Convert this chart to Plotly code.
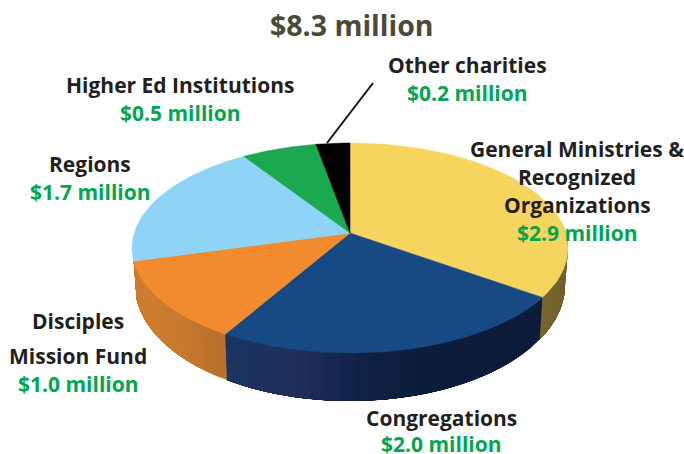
import numpy as np
import plotly.graph_objects as go

# ---- data ----
title = "$8.3 million"
categories = ["General Ministries & Recognized Organizations", "Congregations",
              "Disciples Mission Fund", "Regions", "Higher Ed Institutions", "Other charities"]
values_millions = [2.9, 2.0, 1.0, 1.7, 0.5, 0.2]
# the share of the circle each slice is actually drawn with (percent, not proportional to the dollars)
drawn_share = [32.8, 26.9, 13.3, 18.9, 5.6, 2.5]
top_colors = ["#f6d55f", "#174a84", "#f28a2e", "#8dd4f6", "#1aa850", "#000000"]
side_stops = [[(107, 90, 42), (120, 102, 48)],
              [(12, 28, 58), (12, 28, 58), (12, 28, 58), (16, 34, 70), (33, 46, 90), (27, 52, 98)],
              [(184, 112, 44), (200, 122, 46), (208, 126, 46), (204, 124, 46)],
              None, None, None]

# ---- pie geometry (pixel-like canvas) ----
W, H = 684, 454
CX = 350
TOP = dict(cy=248, rx=218, ry=105)
BOT = dict(cy=285, rx=215, ry=116)
APEX = (350, 233)
INK, GREEN = "#231f20", "#00a651"
TITLE_INK = "#4a4a3a"
FONT = "Open Sans"


def edge(t, e):
    return CX + e["rx"] * np.sin(t), e["cy"] - e["ry"] * np.cos(t)


def interp(stops, f):
    p = f * (len(stops) - 1)
    i = min(int(p), len(stops) - 2)
    a, b = np.array(stops[i]), np.array(stops[i + 1])
    c = a + (b - a) * (p - i)
    return "rgb(%d,%d,%d)" % tuple(c)


bounds = np.radians(np.concatenate([[0], np.cumsum(drawn_share)]) / sum(drawn_share) * 360)
fig = go.Figure()


def poly(x, y, color, w=0):
    fig.add_trace(go.Scatter(x=list(x), y=list(y), mode="lines", fill="toself", fillcolor=color,
                             line=dict(color=color, width=w), hoverinfo="skip", showlegend=False))


# side walls: each strip runs to the end of its slice and the next one paints over it, so no seams show
for i, stops in enumerate(side_stops):
    if stops is None:
        continue
    n = 24
    ts = np.linspace(max(bounds[i], np.pi * 0.42), bounds[i + 1], n + 1)
    for k in range(n):
        seg = np.linspace(ts[k], bounds[i + 1], 60)
        x0, y0 = edge(seg, TOP)
        x1, y1 = edge(seg[::-1], BOT)
        poly(np.r_[x0, x1], np.r_[y0, y1], interp(stops, k / (n - 1)))

# top faces
for i, c in enumerate(top_colors):
    seg = np.linspace(bounds[i], bounds[i + 1], 80)
    x, y = edge(seg, TOP)
    poly(np.r_[APEX[0], x, APEX[0]], np.r_[APEX[1], y, APEX[1]], c, 0.5)


def money(v):
    return f"${v:.1f} million"


def label(x, y, text, color=INK, size=21):
    fig.add_annotation(x=x, y=y, text=f"<b>{text}</b>", showarrow=False, xanchor="center", yanchor="middle",
                       font=dict(family=FONT, size=size, color=color))


label(352, 25, title, TITLE_INK, 28.5)
label(180, 85, categories[4]);  label(180, 113, money(values_millions[4]), GREEN)
label(467, 65, categories[5]);  label(467, 93, money(values_millions[5]), GREEN)
label(90, 164, categories[3]);  label(90, 192, money(values_millions[3]), GREEN)
label(577, 149, "General Ministries &"); label(577, 177, "Recognized"); label(577, 205, "Organizations")
label(577, 233, money(values_millions[0]), GREEN)
label(78, 321, "Disciples"); label(78, 356, "Mission Fund")
label(78, 384, money(values_millions[2]), GREEN)
label(441, 418, categories[1]); label(441, 444, money(values_millions[1]), GREEN)

# leader line for the smallest slice
fig.add_trace(go.Scatter(x=[327, 373], y=[143, 83], mode="lines", line=dict(color="#111111", width=2),
                         hoverinfo="skip", showlegend=False))

fig.update_layout(width=W, height=H, margin=dict(l=0, r=0, t=0, b=0), paper_bgcolor="white", plot_bgcolor="white",
                  xaxis=dict(range=[0, W], visible=False, fixedrange=True),
                  yaxis=dict(range=[H, 0], visible=False, fixedrange=True))
fig.write_html("out.html", config=dict(displayModeBar=False),
               post_script="document.body.style.margin='0';document.body.style.overflow='hidden';")
